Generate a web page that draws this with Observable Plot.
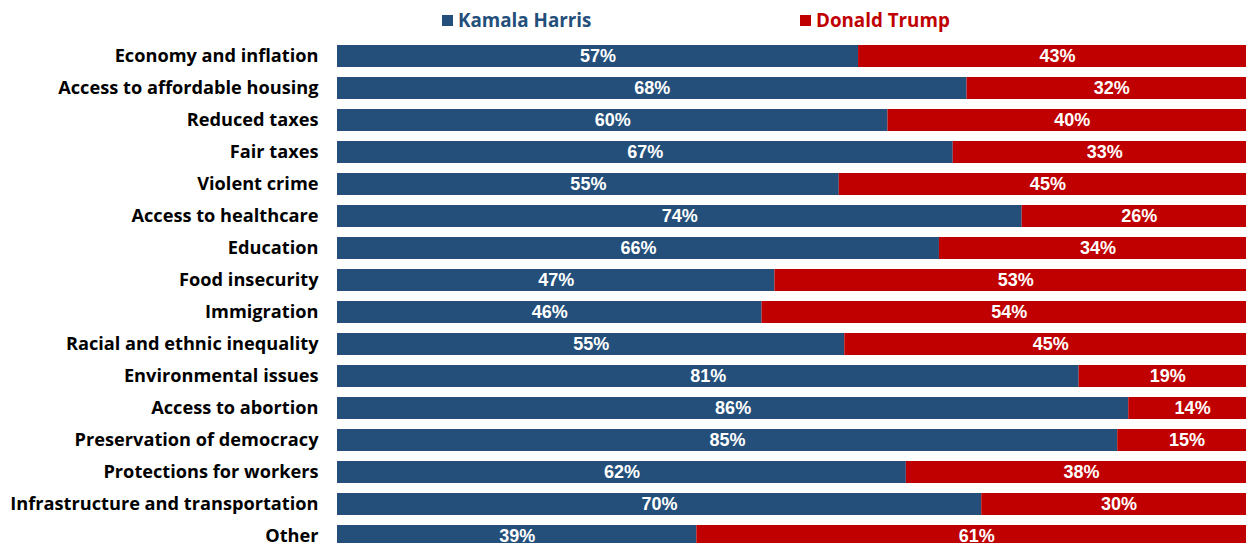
<!DOCTYPE html>
<html><head><meta charset="utf-8">
<script src="https://cdn.jsdelivr.net/npm/d3@7"></script>
<script src="https://cdn.jsdelivr.net/npm/@observablehq/plot@0.6"></script>
<style>
html,body{margin:0;padding:0;background:#fff;overflow:hidden;width:1246px;height:543px}
#legend{position:relative;height:36px;font-family:"Open Sans",sans-serif;font-weight:700;font-size:18.8px}
.item{position:absolute;top:8px;display:flex;align-items:center;line-height:24px}
.sw{width:11px;height:11px;margin-right:5px}
#chart svg{display:block}
</style></head>
<body>
<div id="legend"></div>
<div id="chart"></div>
<script>
const categories = ["Economy and inflation","Access to affordable housing","Reduced taxes","Fair taxes","Violent crime","Access to healthcare","Education","Food insecurity","Immigration","Racial and ethnic inequality","Environmental issues","Access to abortion","Preservation of democracy","Protections for workers","Infrastructure and transportation","Other"];
const candidates = ["Kamala Harris","Donald Trump"];
const colors = ["#244F7A","#C00000"];
// Harris share (bar position)
const harrisShare = [56.7,68.5,59.9,67.0,54.6,74.5,65.5,47.6,46.2,55.2,80.7,86.1,84.9,61.9,70.1,39.1];
// printed labels
const harrisLabels = [57,68,60,67,55,74,66,47,46,55,81,86,85,62,70,39];
const trumpLabels = [43,32,40,33,45,26,34,53,54,45,19,14,15,38,30,61];
const legendX = [442,800];

const long = categories.flatMap((c,i)=>[
  {category:c, candidate:candidates[0], value:harrisShare[i], label:harrisLabels[i]+"%"},
  {category:c, candidate:candidates[1], value:100-harrisShare[i], label:trumpLabels[i]+"%"}
]);

const leg = document.getElementById("legend");
candidates.forEach((c,i)=>{
  const d=document.createElement("div");d.className="item";d.style.left=legendX[i]+"px";d.style.color=colors[i];
  const s=document.createElement("span");s.className="sw";s.style.background=colors[i];
  d.appendChild(s);d.appendChild(document.createTextNode(c));leg.appendChild(d);
});

const chart = Plot.plot({
  width:1246, height:507, marginLeft:337, marginRight:0, marginTop:0, marginBottom:0,
  style:{fontFamily:"'Open Sans',sans-serif", fontSize:"18px", color:"#000", background:"#fff"},
  x:{domain:[0,100], range:[337,1256], axis:null},
  y:{domain:categories, range:[3.65,517.25], paddingInner:0.3, paddingOuter:0.15, axis:null},
  color:{domain:candidates, range:colors},
  marks:[
    Plot.barX(long, Plot.stackX({x:"value", y:"category", fill:"candidate"})),
    Plot.text(long, Plot.stackX({x:"value", y:"category", z:"candidate", text:"label", fill:"white", fontFamily:"'Liberation Sans',Arial,sans-serif", fontWeight:"bold", fontSize:18})),
    Plot.axisY({tickSize:0, tickPadding:19, fontWeight:"bold", fontSize:18.2, label:null, fill:"#000"})
  ]
});
document.getElementById("chart").appendChild(chart);
</script>
</body></html>
